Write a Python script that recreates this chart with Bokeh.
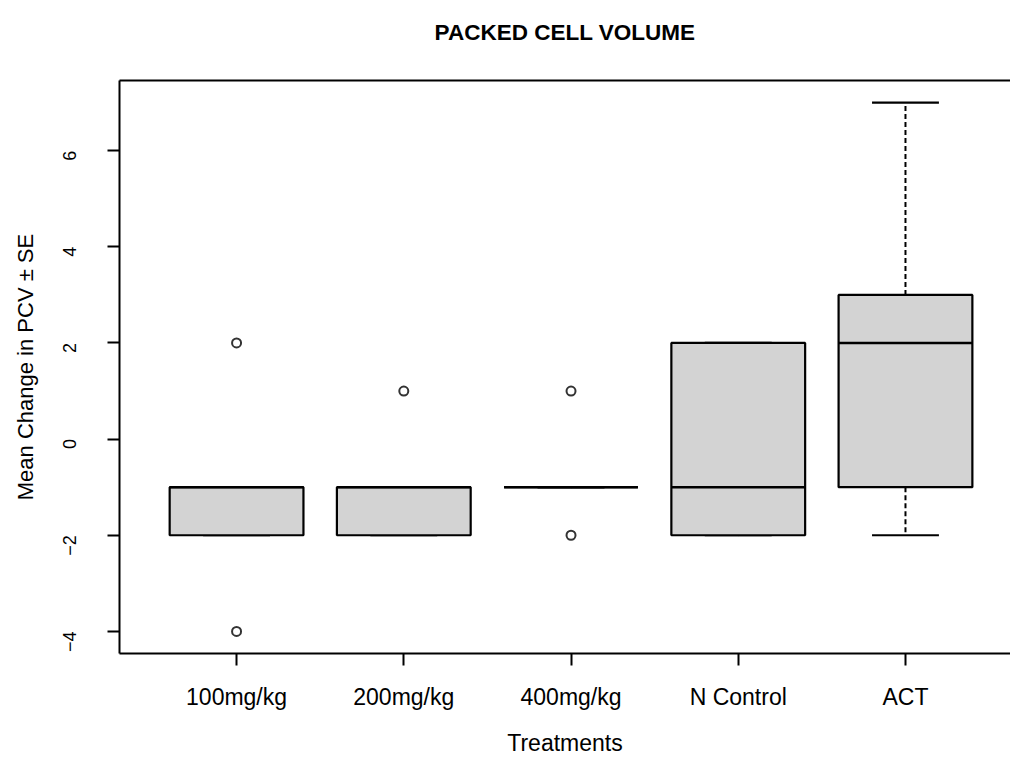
from bokeh.plotting import figure
from bokeh.models import Range1d, FixedTicker, LinearAxis, ColumnDataSource
from bokeh.embed import file_html
from bokeh.resources import INLINE
import math

# ---- data ----
title_text = "PACKED CELL VOLUME"
categories = ["100mg/kg", "200mg/kg", "400mg/kg", "N Control", "ACT"]
q1 = [-2, -2, -1, -2, -1]
median = [-1, -1, -1, -1, 2]
q3 = [-1, -1, -1, 2, 3]
whisker_low = [-2, -2, -1, -2, -2]
whisker_high = [-1, -1, -1, 2, 7]
outlier_group = [1, 1, 2, 3, 3]
outlier_value = [2, -4, 1, 1, -2]
y_ticks = [-4, -2, 0, 2, 4, 6]

pos = list(range(1, len(categories) + 1))
half = 0.4
cap = 0.2

p = figure(width=1010, height=758, output_backend="svg", toolbar_location=None,
           x_range=Range1d(0.3, 5.628), y_range=Range1d(-4.46, 7.46),
           min_border_left=119, min_border_right=0, min_border_top=80,
           min_border_bottom=105)
p.background_fill_color = "white"
p.border_fill_color = "white"
p.outline_line_color = None
p.xgrid.visible = False
p.ygrid.visible = False

# x axis
xa = p.xaxis[0]
xa.ticker = FixedTicker(ticks=pos)
xa.major_label_overrides = {i: c for i, c in zip(pos, categories)}
xa.major_label_text_font = "Liberation Sans"
xa.major_label_text_font_size = "23px"
xa.major_label_text_color = "black"
xa.major_label_standoff = 18
xa.major_tick_out = 12
xa.major_tick_in = 0
xa.minor_tick_out = 0
xa.minor_tick_in = 0
xa.major_tick_line_width = 2
xa.axis_line_width = 2
xa.axis_line_color = "black"
xa.axis_label = "Treatments"
xa.axis_label_text_font = "Liberation Sans"
xa.axis_label_text_font_size = "23px"
xa.axis_label_text_font_style = "normal"
xa.axis_label_text_color = "black"
xa.axis_label_standoff = 17

# y axis
ya = p.yaxis[0]
ya.ticker = FixedTicker(ticks=y_ticks)
ya.major_label_orientation = math.pi / 2
ya.major_label_text_font = "Liberation Sans"
ya.major_label_text_font_size = "18px"
ya.major_label_text_color = "black"
ya.major_label_standoff = 38
ya.major_tick_out = 12
ya.major_tick_in = 0
ya.minor_tick_out = 0
ya.minor_tick_in = 0
ya.major_tick_line_width = 2
ya.axis_line_width = 2
ya.axis_line_color = "black"
ya.axis_label = "Mean Change in PCV \u00b1 SE"
ya.axis_label_text_font = "Liberation Sans"
ya.axis_label_text_font_size = "22px"
ya.axis_label_text_font_style = "normal"
ya.axis_label_text_color = "black"
ya.axis_label_standoff = 16

# top frame line, carrying the chart title
top = LinearAxis(ticker=FixedTicker(ticks=[]), major_label_text_font_size="0px",
                 major_tick_out=0, minor_tick_out=0, axis_line_width=2,
                 axis_line_color="black",
                 axis_label=title_text, axis_label_text_font="Liberation Sans",
                 axis_label_text_font_size="22.5px",
                 axis_label_text_font_style="bold",
                 axis_label_text_color="black", axis_label_standoff=36)
p.add_layout(top, "above")

# boxes
box_src = ColumnDataSource(dict(
    left=[x - half for x in pos], right=[x + half for x in pos],
    bottom=q1, top=q3, x0=[x - half for x in pos], x1=[x + half for x in pos],
    med=median, x=pos, wl=whisker_low, wh=whisker_high,
    c0=[x - cap for x in pos], c1=[x + cap for x in pos]))

# whiskers (dashed)
p.segment(x0="x", x1="x", y0="top", y1="wh", source=box_src,
          line_color="black", line_width=2, line_dash="5 3")
p.segment(x0="x", x1="x", y0="bottom", y1="wl", source=box_src,
          line_color="black", line_width=2, line_dash="5 3")
# caps
p.segment(x0="c0", x1="c1", y0="wh", y1="wh", source=box_src,
          line_color="black", line_width=2.2)
p.segment(x0="c0", x1="c1", y0="wl", y1="wl", source=box_src,
          line_color="black", line_width=2.2)

p.quad(left="left", right="right", bottom="bottom", top="top", source=box_src,
       fill_color="#D3D3D3", line_color="black", line_width=2.2)
p.segment(x0="x0", x1="x1", y0="med", y1="med", source=box_src,
          line_color="black", line_width=2.4)

# outliers
p.scatter(x=outlier_group, y=outlier_value, marker="circle", size=9,
          fill_color=None, line_color="#333333", line_width=2)

open("out.html", "w").write(file_html(p, INLINE))
